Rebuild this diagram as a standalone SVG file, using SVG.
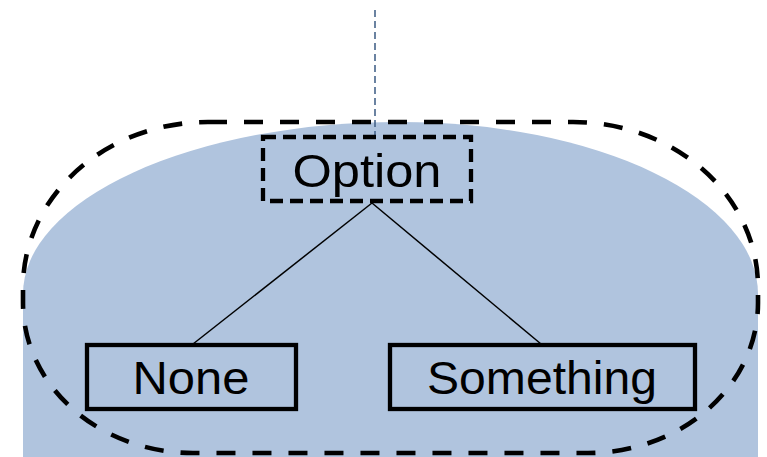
<svg xmlns="http://www.w3.org/2000/svg" width="767" height="457" viewBox="0 0 767 457">
<style>
.lbl{font-family:"Liberation Sans",Arial,sans-serif;font-size:47px;fill:#000;text-anchor:middle}
.box{fill:none;stroke:#000;stroke-width:4.3}
.edge{stroke:#000;stroke-width:1.5;fill:none}
</style>
<rect width="767" height="457" fill="#fff"/>
<path id="region" d="M23,457 V294 A377 172 0 0 1 400 122 A358 172 0 0 1 758 294 V457 Z" fill="#b0c4de"/>
<path id="outline" d="M208,122 H573 A185 165 0 0 1 758 287 V303 A170 150 0 0 1 588 453 H193 A170 150 0 0 1 23 303 V287 A185 165 0 0 1 208 122 Z" fill="none" stroke="#000" stroke-width="4.6" stroke-dasharray="19 17"/>
<line x1="375" y1="10" x2="375" y2="137" stroke="#46648a" stroke-width="1.6" stroke-dasharray="7 4"/>
<g id="connectors">
<line class="edge" x1="372" y1="203" x2="193" y2="344"/>
<line class="edge" x1="372" y1="203" x2="541" y2="344"/>
</g>
<g id="option">
<rect class="box" x="263" y="137" width="208" height="64" stroke-dasharray="13 7"/>
<text class="lbl" x="367" y="187" textLength="149" lengthAdjust="spacingAndGlyphs">Option</text>
</g>
<g id="none">
<rect class="box" x="87" y="345" width="209" height="64"/>
<text class="lbl" x="191" y="394" textLength="117" lengthAdjust="spacingAndGlyphs">None</text>
</g>
<g id="something">
<rect class="box" x="390" y="345" width="305" height="64"/>
<text class="lbl" x="542" y="394" textLength="230" lengthAdjust="spacingAndGlyphs">Something</text>
</g>
</svg>
